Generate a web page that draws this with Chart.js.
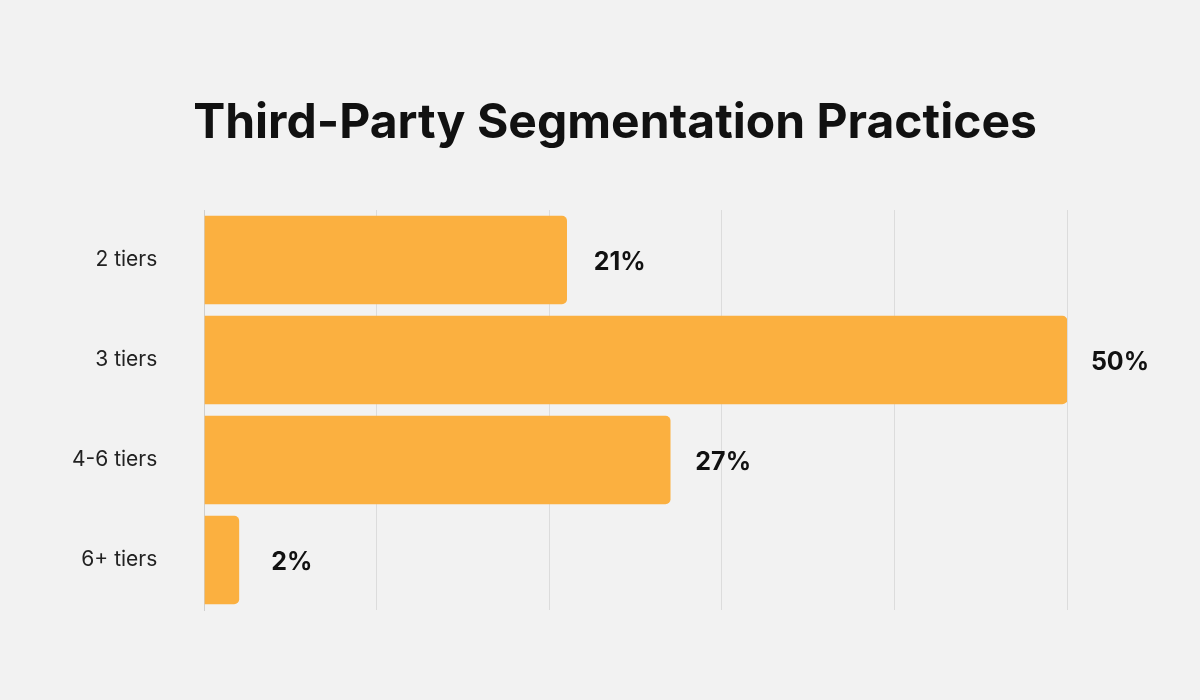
<!DOCTYPE html>
<html lang="en">
<head>
    <meta charset="UTF-8">
    <title>Third-Party Segmentation Practices</title>
    <script src="https://cdn.jsdelivr.net/npm/chart.js"></script>
    <style>
        html, body {
            margin: 0;
            padding: 0;
            background-color: #f2f2f2;
        }
        .chart-box {
            position: relative;
            width: 1200px;
            height: 700px;
        }
        h1 {
            position: absolute;
            top: 88px;
            left: 0;
            width: 1230px;
            margin: 0;
            text-align: center;
            font-family: Inter, "DejaVu Sans", sans-serif;
            font-size: 48px;
            font-weight: 700;
            line-height: 66px;
            color: #111;
        }
    </style>
</head>
<body>
    <div class="chart-box">
        <h1>Third-Party Segmentation Practices</h1>
        <canvas id="tiersChart"></canvas>
    </div>

    <script>
        const categories = ['2 tiers', '3 tiers', '4-6 tiers', '6+ tiers'];
        const shares = [21, 50, 27, 2];
        const gridTicks = [0, 10, 20, 30, 40, 50];

        // value labels to the right of each bar
        const valueLabels = {
            id: 'valueLabels',
            afterDatasetsDraw(chart) {
                const ctx = chart.ctx;
                const meta = chart.getDatasetMeta(0);
                ctx.save();
                ctx.font = 'bold 25px Inter, "DejaVu Sans", sans-serif';
                ctx.fillStyle = '#111';
                ctx.textAlign = 'center';
                ctx.textBaseline = 'middle';
                meta.data.forEach((bar, i) => {
                    ctx.fillText(shares[i] + '%', bar.x + 53, bar.y + 2);
                });
                ctx.restore();
            }
        };

        const ctx = document.getElementById('tiersChart').getContext('2d');
        new Chart(ctx, {
            type: 'bar',
            data: {
                labels: categories,
                datasets: [{
                    data: shares,
                    backgroundColor: '#fbb040',
                    borderRadius: { topRight: 5, bottomRight: 5, topLeft: 0, bottomLeft: 0 },
                    borderSkipped: 'start',
                    barThickness: 88
                }]
            },
            options: {
                indexAxis: 'y',
                responsive: true,
                maintainAspectRatio: false,
                animation: false,
                layout: {
                    padding: { left: 33, right: 133, top: 210, bottom: 90 }
                },
                plugins: {
                    legend: { display: false },
                    tooltip: { enabled: false },
                    title: { display: false }
                },
                scales: {
                    x: {
                        min: 0,
                        max: 50,
                        afterBuildTicks: (axis) => {
                            axis.ticks = gridTicks.map(v => ({ value: v }));
                        },
                        grid: { color: '#dcdcdc', lineWidth: 1, drawTicks: false },
                        border: { display: false },
                        ticks: { display: false }
                    },
                    y: {
                        grid: { display: false },
                        border: { display: true, color: '#cfcfcf' },
                        ticks: {
                            color: '#222',
                            padding: 39,
                            font: { family: 'Inter, "DejaVu Sans", sans-serif', size: 21 }
                        }
                    }
                }
            },
            plugins: [valueLabels]
        });
    </script>
</body>
</html>
